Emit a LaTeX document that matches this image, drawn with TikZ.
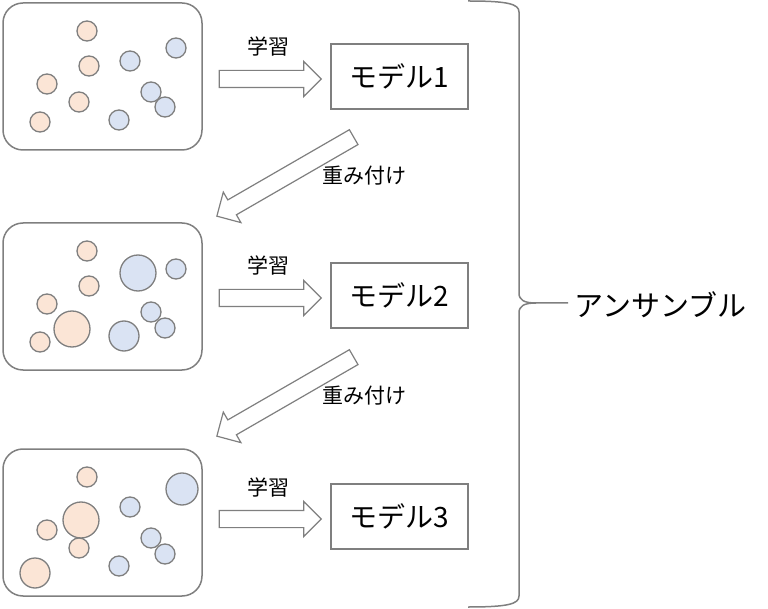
\documentclass[tikz,border=0pt]{standalone}
\usepackage{fontspec}
\setmainfont{Noto Sans CJK JP}
\usetikzlibrary{shapes.arrows}

\definecolor{edgegray}{HTML}{7F7F7F}
\definecolor{dotorange}{HTML}{FBE5D6}
\definecolor{dotblue}{HTML}{DAE3F3}

\tikzset{
	databox/.style={draw=edgegray, line width=1.5pt, rounded corners=20pt,
		minimum width=199pt, minimum height=147pt},
	modelbox/.style={draw=edgegray, line width=1.5pt, minimum width=137pt,
		minimum height=65pt, font=\fontsize{28}{28}\selectfont},
	odot/.style={draw=edgegray, line width=1.3pt, fill=dotorange},
	bdot/.style={draw=edgegray, line width=1.3pt, fill=dotblue},
	blockarrow/.style={single arrow, draw=edgegray, line width=1.2pt, fill=white,
		inner sep=0pt, text height=8pt, text depth=8pt,
		single arrow head extend=9pt},
	lbl/.style={font=\fontsize{21}{21}\selectfont, inner sep=0pt},
}

\begin{document}
\begin{tikzpicture}[x=1pt,y=-1pt]
	\useasboundingbox (0,0) rectangle (768,609);
	\foreach \i/\dy/\my in {1/76.5/76.5, 2/296.5/295.5, 3/522.5/516.5}{
		% data and model
		\path (102.5,\dy) node [databox] (data\i) {};
		\path (399.5,\my) node [modelbox] (model\i) {モデル\i};
		% learning arrow
		\path (266,{\my+2.5}) node [blockarrow, minimum height=102pt] (lrn\i) {};
		\path (268,{\my-29.5}) node [lbl] (lrnlbl\i) {学習};
	}
	% weighting arrows
	\foreach \i/\dy in {1/0, 2/220}{
		\path (289,{174.5+\dy}) node [blockarrow, minimum height=158pt, rotate=210] (wgt\i) {};
		\path (364,{176+\dy}) node [lbl] (wgtlbl\i) {重み付け};
	}
	% Panel 1
	\begin{scope}
		\foreach \x/\y/\r in {87/31/10, 89/66/10, 47/84/10, 79/102/10, 40/122/10}
			\draw [odot] (\x,\y) circle [radius=\r pt];
		\foreach \x/\y/\r in {130/61/10, 176/48/10, 151/92/10, 165/107/10, 119/120/10}
			\draw [bdot] (\x,\y) circle [radius=\r pt];
	\end{scope}
	% Panel 2
	\begin{scope}[shift={(0,220)}]
		\foreach \x/\y/\r in {87/31/10, 89/66/10, 47/84/10, 72/109/18, 40/122/10}
			\draw [odot] (\x,\y) circle [radius=\r pt];
		\foreach \x/\y/\r in {138/53/18, 176/49/10, 151/92/10, 165/108/10, 124/116/15}
			\draw [bdot] (\x,\y) circle [radius=\r pt];
	\end{scope}
	% Panel 3
	\begin{scope}[shift={(0,446)}]
		\foreach \x/\y/\r in {87/31/10, 81/74/18, 47/84/10, 79/102/10, 35/127/15}
			\draw [odot] (\x,\y) circle [radius=\r pt];
		\foreach \x/\y/\r in {130/61/10, 182/43/16, 151/92/10, 165/108/10, 119/120/10}
			\draw [bdot] (\x,\y) circle [radius=\r pt];
	\end{scope}
	% brace
	\coordinate (bracetip) at (568,303);
	\draw [edgegray, line width=1.5pt] (468,1) .. controls (508,1) and (519,4) .. (519,12)
		-- (519,293) .. controls (519,300) and (524,303) .. (536,303) -- (bracetip);
	\draw [edgegray, line width=1.5pt] (536,303) .. controls (524,303) and (519,306) .. (519,313)
		-- (519,596) .. controls (519,604) and (508,607) .. (468,607);
	\path (574,305) node [anchor=west, inner sep=0pt, font=\fontsize{29}{29}\selectfont] (ensemble) {アンサンブル};
\end{tikzpicture}
\end{document}
